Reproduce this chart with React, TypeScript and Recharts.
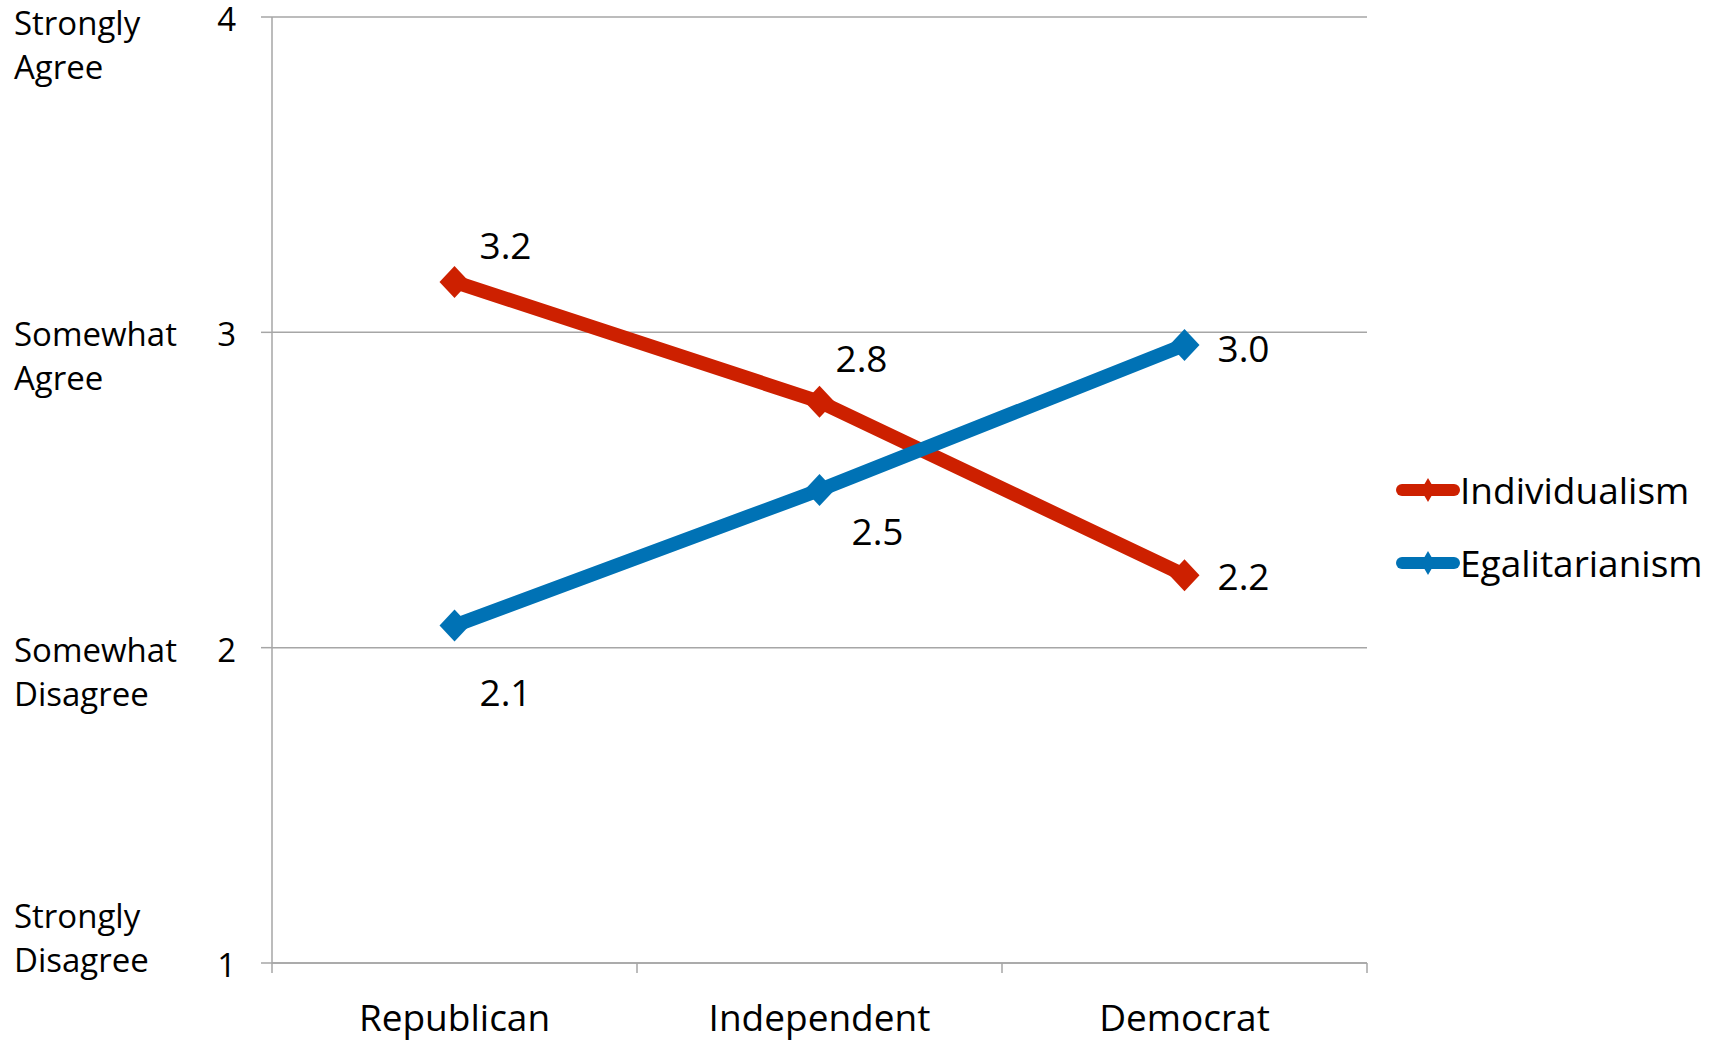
import React from 'react';
import { LineChart, Line, XAxis, YAxis, CartesianGrid, LabelList } from 'recharts';

const parties = ['Republican', 'Independent', 'Democrat'];
const individualism = [3.16, 2.78, 2.23];
const egalitarianism = [2.07, 2.5, 2.96];
const yTicks = [1, 2, 3, 4];
const agreeLabels = [
  ['Strongly', 'Disagree'],
  ['Somewhat', 'Disagree'],
  ['Somewhat', 'Agree'],
  ['Strongly', 'Agree'],
];
const seriesNames = ['Individualism', 'Egalitarianism'];

const data = parties.map((party, i) => ({
  party,
  individualism: individualism[i],
  egalitarianism: egalitarianism[i],
}));

const RED = '#CD2000';
const BLUE = '#0072B5';
const GRID = '#A6A6A6';
const FONT = '"Open Sans", sans-serif';
const FS_AXIS = 33;
const FS_BIG = 37;

const W = 1719;
const H = 1042;
const LEFT = 272;
const RIGHT_MARGIN = 352;
const HALF_BAND = (W - LEFT - RIGHT_MARGIN) / parties.length / 2;

// label offsets from the marker centre, per point
const redLabelOffsets = [[51, -36], [42, -43], [59, 2]];
const blueLabelOffsets = [[51, 67], [58, 42], [59, 4]];

const Diamond = (color: string) => (props: any) => {
  const { cx, cy, index } = props;
  if (cx == null || cy == null) return null;
  return (
    <polygon
      key={index}
      points={`${cx},${cy - 16} ${cx + 15},${cy} ${cx},${cy + 16} ${cx - 15},${cy}`}
      fill={color}
    />
  );
};

const makeLabel = (offsets: number[][]) => (props: any) => {
  const { x, y, value, index } = props;
  const [dx, dy] = offsets[index] || [0, 0];
  return (
    <text
      x={x + dx}
      y={y + dy}
      dy="0.36em"
      textAnchor="middle"
      fontFamily={FONT}
      fontSize={FS_BIG}
      fill="#000"
    >
      {Number(value).toFixed(1)}
    </text>
  );
};

const YTick = (props: any) => {
  const { x, y, payload } = props;
  const i = yTicks.indexOf(payload.value);
  const lines = agreeLabels[i] || [];
  // bottom label sits above its tick, the top one a little lower
  let first = y + 2;
  if (payload.value === 1) first = y - 47;
  if (payload.value === 4) first = y + 6;
  return (
    <g>
      <text x={x} y={y + 2} dy="0.36em" textAnchor="end" fontFamily={FONT} fontSize={FS_AXIS} fill="#000">
        {payload.value}
      </text>
      {lines.map((l, k) => (
        <text key={k} x={14} y={first + k * 44} dy="0.36em" fontFamily={FONT} fontSize={FS_AXIS} fill="#000">
          {l}
        </text>
      ))}
    </g>
  );
};

const XTick = (props: any) => {
  const { x, y, payload, index } = props;
  return (
    <g>
      <line x1={x - HALF_BAND} x2={x - HALF_BAND} y1={y - 10} y2={y} stroke={GRID} strokeWidth={1.5} />
      {index === parties.length - 1 && (
        <line x1={x + HALF_BAND} x2={x + HALF_BAND} y1={y - 10} y2={y} stroke={GRID} strokeWidth={1.5} />
      )}
      <text x={x} y={y + 45} dy="0.36em" textAnchor="middle" fontFamily={FONT} fontSize={FS_BIG} fill="#000">
        {payload.value}
      </text>
    </g>
  );
};

const LegendIcon = ({ color }: { color: string }) => (
  <svg width={64} height={30} style={{ display: 'block' }}>
    <line x1={6} x2={58} y1={15} y2={15} stroke={color} strokeWidth={12} strokeLinecap="round" />
    <polygon points="32,3 39,15 32,27 25,15" fill={color} />
  </svg>
);

const ChartLegend = () => (
  <div
    style={{
      position: 'absolute',
      left: 1396,
      top: 453,
      fontFamily: FONT,
      fontSize: FS_BIG,
      color: '#000',
    }}
  >
    {seriesNames.map((name, i) => (
      <div key={name} style={{ display: 'flex', alignItems: 'center', height: 73 }}>
        <LegendIcon color={i === 0 ? RED : BLUE} />
        <span style={{ lineHeight: 1 }}>{name}</span>
      </div>
    ))}
  </div>
);

export default function App() {
  return (
    <div style={{ position: 'absolute', left: 0, top: 0, width: W, height: H, background: '#fff' }}>
      <LineChart
        width={W}
        height={H}
        data={data}
        margin={{ top: 17, right: RIGHT_MARGIN, left: 0, bottom: 0 }}
      >
        <CartesianGrid vertical={false} stroke={GRID} strokeWidth={1.5} />
        <XAxis
          dataKey="party"
          height={79}
          padding={{ left: HALF_BAND, right: HALF_BAND }}
          axisLine={{ stroke: GRID, strokeWidth: 1.5 }}
          tickLine={false}
          tickSize={10}
          tickMargin={0}
          tick={<XTick />}
          interval={0}
        />
        <YAxis
          type="number"
          domain={[1, 4]}
          ticks={yTicks}
          width={LEFT}
          axisLine={{ stroke: GRID, strokeWidth: 1.5 }}
          tickLine={{ stroke: GRID, strokeWidth: 1.5 }}
          tickSize={11}
          tickMargin={25}
          tick={<YTick />}
        />
        <Line
          type="linear"
          dataKey="individualism"
          name={seriesNames[0]}
          stroke={RED}
          strokeWidth={14}
          dot={Diamond(RED)}
          activeDot={false}
          isAnimationActive={false}
        >
          <LabelList dataKey="individualism" content={makeLabel(redLabelOffsets)} />
        </Line>
        <Line
          type="linear"
          dataKey="egalitarianism"
          name={seriesNames[1]}
          stroke={BLUE}
          strokeWidth={14}
          dot={Diamond(BLUE)}
          activeDot={false}
          isAnimationActive={false}
        >
          <LabelList dataKey="egalitarianism" content={makeLabel(blueLabelOffsets)} />
        </Line>
      </LineChart>
      <ChartLegend />
    </div>
  );
}
